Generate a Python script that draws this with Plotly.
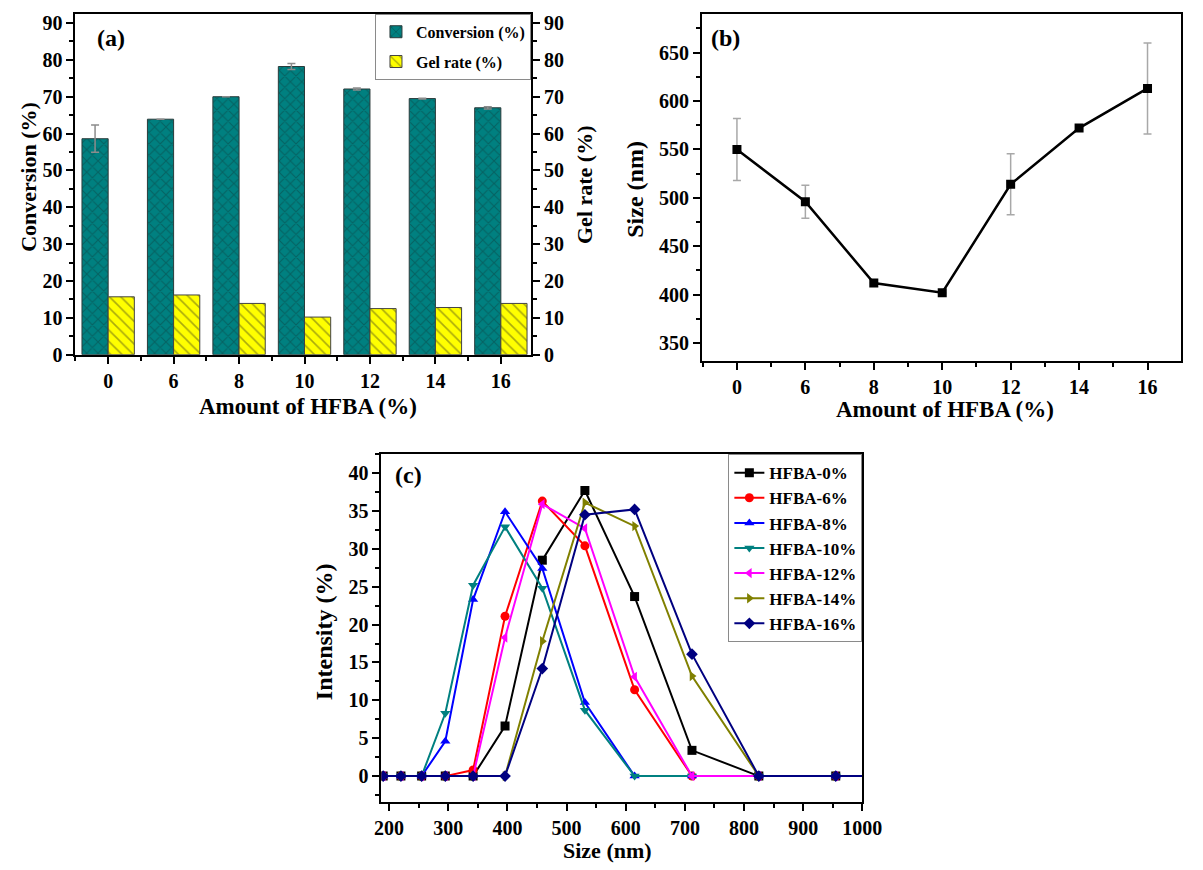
import plotly.graph_objects as go

# ---------------- data ----------------
# Panel (a)
hfba_amounts = ["0", "6", "8", "10", "12", "14", "16"]
conversion = [58.6, 63.9, 70.0, 78.2, 72.1, 69.5, 67.0]
conversion_err = [3.7, 0, 0, 0.8, 0.3, 0.1, 0.3]
gel_rate = [15.7, 16.2, 13.9, 10.2, 12.5, 12.8, 13.9]

# Panel (b)
particle_size = [550, 496, 412, 402, 514, 572, 613]
particle_size_err = [32, 17, 0, 0, 31.5, 0, 47]

# Panel (c)
dls_size = [190, 220, 255, 295, 342, 396, 459, 531, 615, 712, 825, 955, 1106]
int_hfba0 = [0, 0, 0, 0, 0, 6.6, 28.5, 37.7, 23.7, 3.4, 0, 0, 0]
int_hfba6 = [0, 0, 0, 0, 0.8, 21.1, 36.3, 30.4, 11.4, 0, 0, 0, 0]
int_hfba8 = [0, 0, 0, 4.6, 23.3, 34.9, 27.4, 9.7, 0, 0, 0, 0, 0]
int_hfba10 = [0, 0, 0, 8.3, 25.2, 32.9, 24.8, 8.7, 0, 0, 0, 0, 0]
int_hfba12 = [0, 0, 0, 0, 0, 18.3, 35.9, 32.7, 13.1, 0, 0, 0, 0]
int_hfba14 = [0, 0, 0, 0, 0, 0, 17.8, 36.1, 33.0, 13.2, 0, 0, 0]
int_hfba16 = [0, 0, 0, 0, 0, 0, 14.2, 34.5, 35.2, 16.1, 0, 0, 0]

series_names = ["HFBA-0%", "HFBA-6%", "HFBA-8%", "HFBA-10%", "HFBA-12%", "HFBA-14%", "HFBA-16%"]
series_values = [int_hfba0, int_hfba6, int_hfba8, int_hfba10, int_hfba12, int_hfba14, int_hfba16]
series_colors = ["#000000", "#ff0000", "#0000ff", "#008080", "#ff00ff", "#808000", "#000080"]
series_symbols = ["square", "circle", "triangle-up", "triangle-down", "triangle-left",
                  "triangle-right", "diamond"]

# ---------------- figure ----------------
FONT = "Liberation Serif"
W, H = 1203, 870


def tf(size):
    return dict(family=FONT, size=size, color="black", weight="bold")


def px_x(v):
    return v / W


def px_y(v):
    return 1 - v / H


idx = list(range(len(hfba_amounts)))
fig = go.Figure()

# (a) bars
fig.add_trace(go.Bar(
    x=idx, y=conversion, name="Conversion (%)", xaxis="x", yaxis="y",
    offset=-0.4, width=0.4, legend="legend", legendgroup="conv",
    marker=dict(color="#008080", line=dict(color="#2b3b3b", width=1),
                pattern=dict(shape="x", fgcolor="#0b4444", size=8, solidity=0.25,
                             fillmode="overlay")),
    error_y=dict(type="data", array=conversion_err, color="#8c8c8c", thickness=1.5, width=4),
))
fig.add_trace(go.Bar(
    x=idx, y=gel_rate, name="Gel rate (%)", xaxis="x", yaxis="y2",
    offset=0.0, width=0.4, legend="legend", legendgroup="gel",
    marker=dict(color="#ffff00", line=dict(color="#444444", width=1),
                pattern=dict(shape="\\", fgcolor="#55551a", size=8, solidity=0.2,
                             fillmode="overlay")),
))

# (b) line
fig.add_trace(go.Scatter(
    x=idx, y=particle_size, mode="lines+markers", xaxis="x2", yaxis="y3",
    showlegend=False,
    line=dict(color="black", width=2.5),
    marker=dict(symbol="square", size=9, color="black"),
    error_y=dict(type="data", array=particle_size_err, color="#a8a8a8", thickness=1.5, width=4),
))

# (c) lines
for name, vals, col, sym in zip(series_names, series_values, series_colors, series_symbols):
    fig.add_trace(go.Scatter(
        x=dls_size, y=vals, name=name, mode="lines+markers", xaxis="x3", yaxis="y4",
        legend="legend2",
        line=dict(color=col, width=2),
        marker=dict(symbol=sym, size=9, color=col),
    ))

axis_common = dict(
    showline=True, linecolor="black", linewidth=2, ticks="outside", ticklen=7,
    tickwidth=2, tickcolor="black", showgrid=False, zeroline=False, tickfont=tf(20),
)
minor_common = dict(ticks="outside", ticklen=4, tickwidth=2, tickcolor="black", showgrid=False)

fig.update_layout(
    width=W, height=H, margin=dict(l=0, r=0, t=0, b=0),
    paper_bgcolor="white", plot_bgcolor="white",
    font=dict(family=FONT, color="black"),
    xaxis=dict(**axis_common, domain=[px_x(70), px_x(536)], anchor="y",
               range=[-0.5, 6.46], tickmode="array", tickvals=idx, ticktext=hfba_amounts,
               minor=dict(**minor_common, tickmode="linear", tick0=0.5, dtick=1), mirror=True),
    yaxis=dict(**axis_common, domain=[px_y(358), px_y(12)], anchor="x",
               range=[0, 92.5], tick0=0, dtick=10, minor=dict(**minor_common, dtick=5)),
    yaxis2=dict(**axis_common, overlaying="y", side="right", anchor="x",
                range=[0, 92.5], tick0=0, dtick=10, minor=dict(**minor_common, dtick=5)),
    xaxis2=dict(**axis_common, domain=[px_x(711), px_x(1201)], anchor="y3",
                range=[-0.51, 6.49], tickmode="array", tickvals=idx, ticktext=hfba_amounts,
                minor=dict(**minor_common, tickmode="linear", tick0=0.5, dtick=1), mirror=True),
    yaxis3=dict(**axis_common, domain=[px_y(364), px_y(12)], anchor="x2",
                range=[332, 690], tick0=0, dtick=50, minor=dict(**minor_common, dtick=25),
                mirror=True),
    xaxis3=dict(**axis_common, domain=[px_x(383), px_x(875)], anchor="y4",
                range=[187, 1000], tick0=0, dtick=100, minor=dict(**minor_common, dtick=50),
                mirror=True),
    yaxis4=dict(**axis_common, domain=[px_y(812), px_y(459)], anchor="x3",
                range=[-3.4, 42.5], tick0=0, dtick=5, minor=dict(**minor_common, dtick=2.5),
                mirror=True),
    legend=dict(x=px_x(536), xanchor="right", y=px_y(12), yanchor="top",
                bordercolor="#8a8a8a", borderwidth=1, bgcolor="white", font=tf(16),
                tracegroupgap=6),
    legend2=dict(x=px_x(875), xanchor="right", y=px_y(459), yanchor="top",
                 bordercolor="#8a8a8a", borderwidth=1, bgcolor="white", font=tf(17)),
)

annotations = [
    ("(a)", 90, 37, 0, 24, "left"),
    ("(b)", 718, 37, 0, 24, "left"),
    ("(c)", 395, 480, 0, 24, "left"),
    ("Conversion (%)", 22, 178, -90, 22, "center"),
    ("Gel rate (%)", 590, 185, -90, 22, "center"),
    ("Amount of HFBA (%)", 308, 411, 0, 23, "center"),
    ("Size (nm)", 643, 190, -90, 24, "center"),
    ("Amount of HFBA (%)", 960, 414, 0, 23, "center"),
    ("Intensity (%)", 325, 639, -90, 24, "center"),
    ("Size (nm)", 614, 861, 0, 22, "center"),
]
for text, x, y, ang, size, xa in annotations:
    fig.add_annotation(text=text, x=px_x(x), y=px_y(y), xref="paper", yref="paper",
                       xanchor=xa, yanchor="middle", textangle=ang, showarrow=False,
                       font=tf(size))

fig.write_html("out.html", config={"displayModeBar": False},
               post_script="document.body.style.margin='0';")
